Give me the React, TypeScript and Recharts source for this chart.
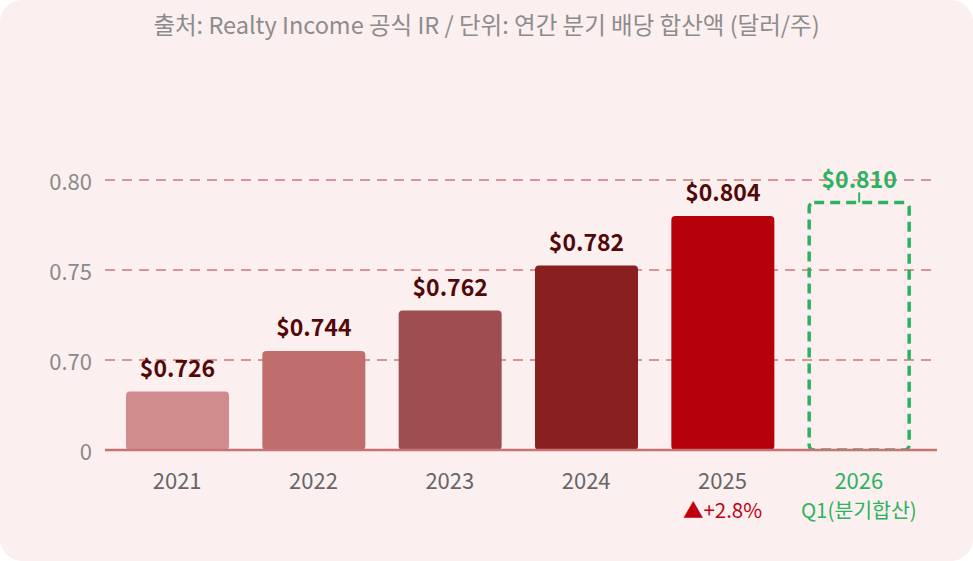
import React from "react";
import { BarChart, Bar, XAxis, YAxis, CartesianGrid, LabelList } from "recharts";

const years = ["2021", "2022", "2023", "2024", "2025", "2026"];
const dividends = [0.726, 0.744, 0.762, 0.782, 0.804, 0.81];
const barColors = ["#D08C8C", "#C06D6D", "#9E4E4E", "#8A1F1F", "#B6000C", "none"];
const subLabels = ["", "", "", "", "▲+2.8%", "Q1(분기합산)"];
const yTickValues = [0.7, 0.74, 0.78, 0.82];
const yTickLabels = ["0", "0.70", "0.75", "0.80"];
const titleText = "출처: Realty Income 공식 IR / 단위: 연간 분기 배당 합산액 (달러/주)";

const data = years.map((y, i) => ({ year: y, value: dividends[i], sub: subLabels[i], color: barColors[i], projected: i === years.length - 1 }));

const FONT = "'Noto Sans CJK KR', 'Noto Sans', sans-serif";
const GREEN = "#2DB35F";

const BarShape = (props: any) => {
  const { x, y, width, height, payload } = props;
  if (payload.projected) {
    return (
      <g>
        <rect x={x + 1.5} y={y} width={width - 3} height={height} rx={5} ry={5} fill="none" stroke={GREEN} strokeWidth={3.5} strokeDasharray="10 6" />
        <line x1={x + width / 2} x2={x + width / 2} y1={y - 10} y2={y} stroke={GREEN} strokeWidth={2} />
      </g>
    );
  }
  return <rect x={x} y={y} width={width} height={height} rx={4} ry={4} fill={payload.color} />;
};

const ValueLabel = (props: any) => {
  const { x, y, width, index } = props;
  const projected = index === years.length - 1;
  return (
    <text x={x + width / 2} y={y - 25} textAnchor="middle" dominantBaseline="central" fontFamily={FONT} fontWeight={700} fontSize={23} fill={projected ? GREEN : "#520808"}>
      {"$" + Number(dividends[index]).toFixed(3)}
    </text>
  );
};

const XTick = (props: any) => {
  const { x, y, payload } = props;
  const i = years.indexOf(payload.value);
  const projected = i === years.length - 1;
  const sub = subLabels[i];
  return (
    <g>
      <text x={x} y={y} dy={31} textAnchor="middle" fontFamily={FONT} fontSize={22} fill={projected ? GREEN : "#666666"}>
        {payload.value}
      </text>
      {sub ? (
        <text x={x} y={y} dy={60} textAnchor="middle" fontFamily={FONT} fontSize={20.5} fill={projected ? GREEN : "#C0000F"}>
          {sub}
        </text>
      ) : null}
    </g>
  );
};

const YTick = (props: any) => {
  const { x, y, payload } = props;
  const i = yTickValues.findIndex((v) => Math.abs(v - payload.value) < 1e-6);
  return (
    <text x={x + 3} y={y} textAnchor="end" dominantBaseline="central" fontFamily={FONT} fontSize={22} fill="#8A8A8A">
      {yTickLabels[i]}
    </text>
  );
};

export default function App() {
  return (
    <div style={{ position: "absolute", left: 0, top: 0, width: 973, height: 561, background: "#FFFFFF" }}>
      <div style={{ position: "absolute", left: 0, top: 0, width: 973, height: 561, background: "#FCEFEF", borderRadius: 22, overflow: "hidden" }}>
        <div style={{ position: "absolute", left: 0, top: 7, width: 973, textAlign: "center", fontFamily: FONT, fontSize: 23.5, color: "#8C8C8C" }}>
          {titleText}
        </div>
        <BarChart width={973} height={561} data={data} margin={{ top: 180, right: 36, left: 0, bottom: 51 }}>
          <CartesianGrid vertical={false} stroke="#D99495" strokeWidth={2} strokeDasharray="10 7" />
          <XAxis dataKey="year" height={60} axisLine={{ stroke: "#C87272", strokeWidth: 2.5 }} tickLine={false} tick={<XTick />} interval={0} padding={{ left: 4, right: 10 }} />
          <YAxis width={105} domain={[0.7, 0.82]} ticks={yTickValues} axisLine={false} tickLine={false} tick={<YTick />} tickMargin={10} allowDataOverflow />
          <Bar dataKey="value" barSize={103} shape={<BarShape />} isAnimationActive={false}>
            <LabelList dataKey="value" content={<ValueLabel />} />
          </Bar>
        </BarChart>
      </div>
    </div>
  );
}
